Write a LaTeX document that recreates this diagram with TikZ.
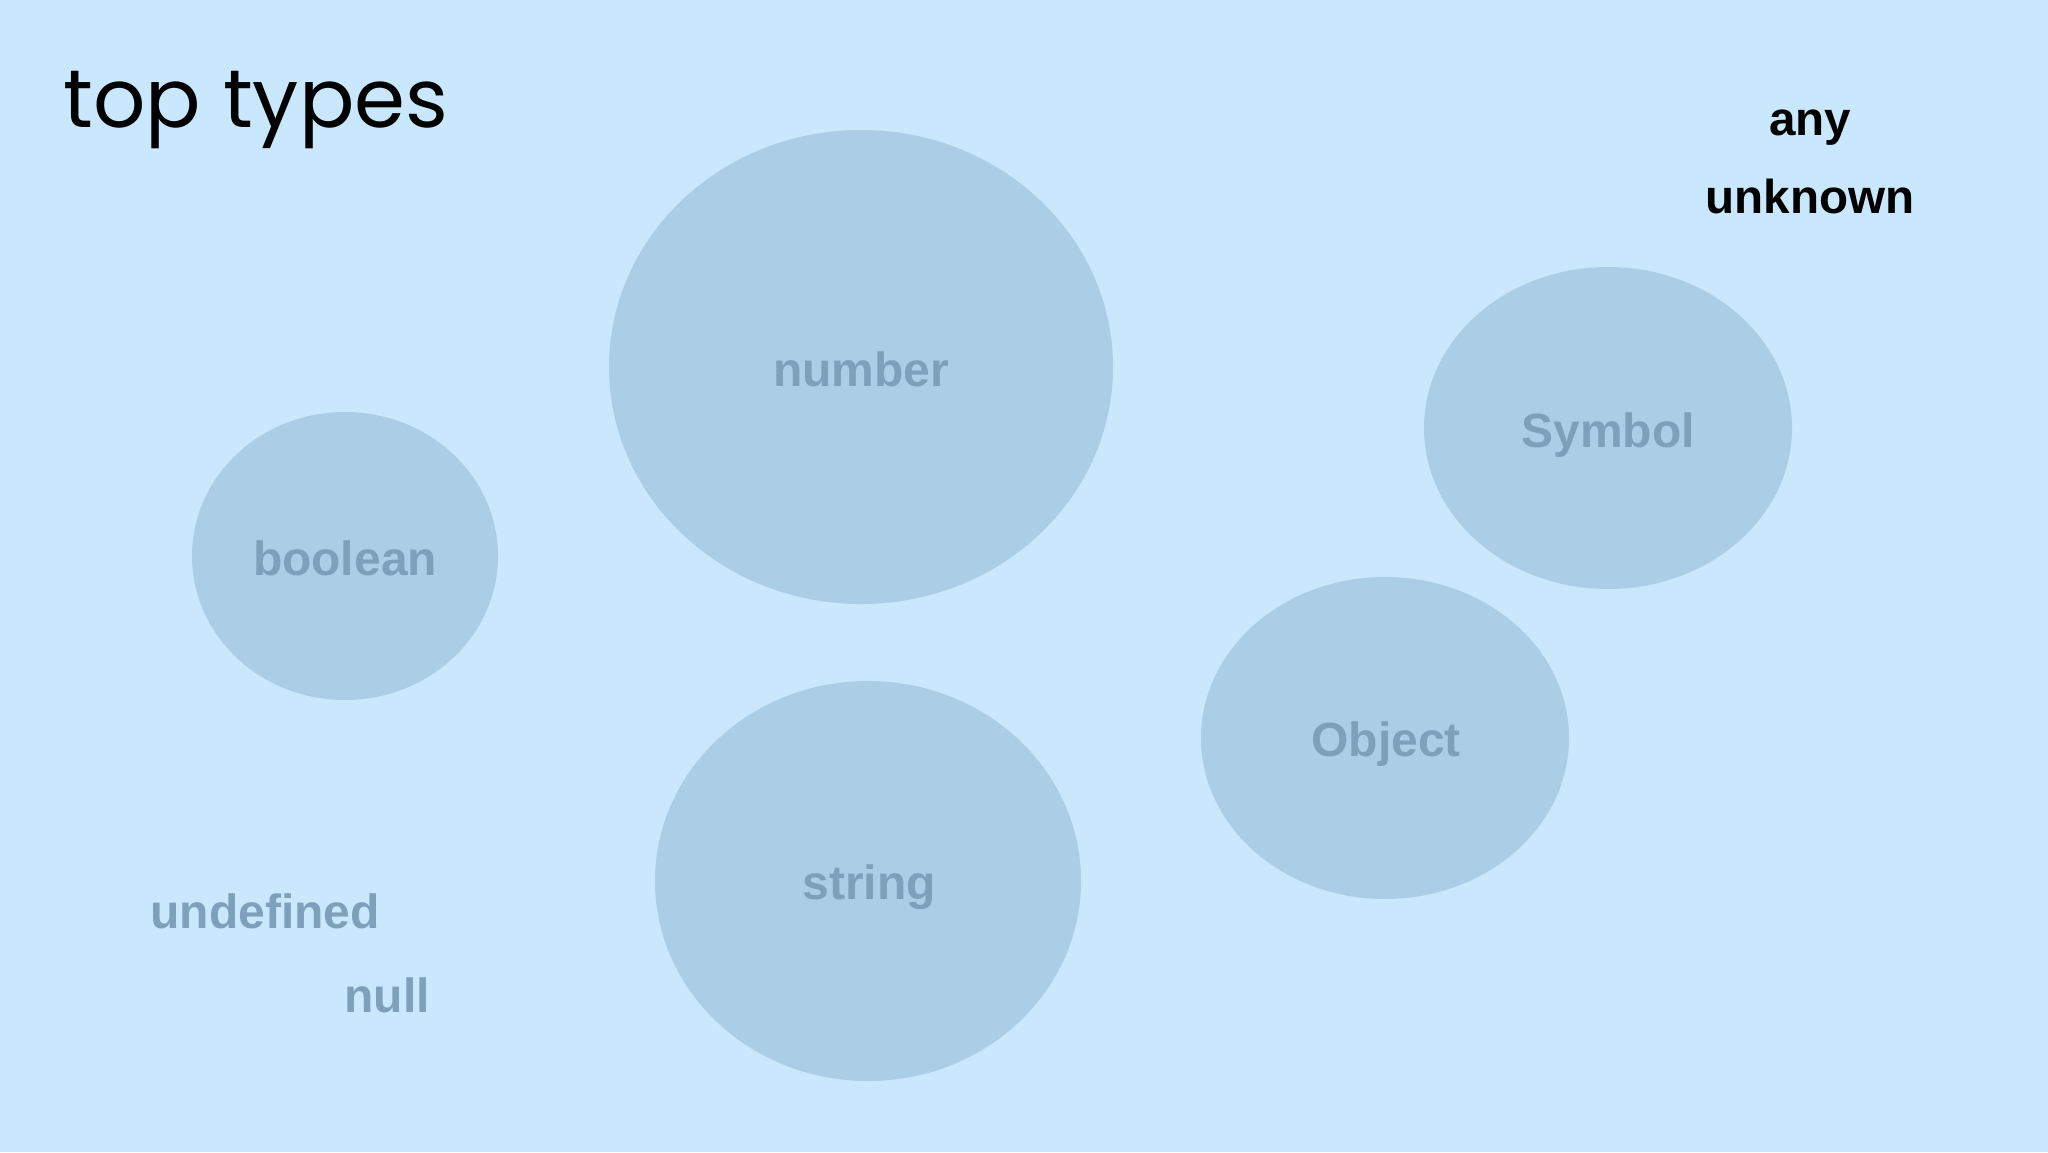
\documentclass[tikz,border=0pt]{standalone}
\usepackage{fontspec}
\setmainfont{Liberation Sans}
\newfontfamily\titlefont{Poppins}
\definecolor{bgblue}{HTML}{C9E7FD}
\definecolor{blobfill}{HTML}{ABCDE5}
\definecolor{labelgrey}{HTML}{7FA0BA}
\begin{document}
\begin{tikzpicture}[x=0.5pt,y=-0.5pt,
  blob/.style={fill=blobfill,draw=none},
  lbl/.style={anchor=base,inner sep=0pt,font=\fontsize{24}{28}\selectfont\bfseries,text=labelgrey},
  toplbl/.style={anchor=base,inner sep=0pt,font=\fontsize{23.8}{28}\selectfont\bfseries,text=black}]
\fill[bgblue] (0,0) rectangle (2048,1152);
\useasboundingbox (0,0) rectangle (2048,1152);
\fill[blob] (861,367) ellipse [x radius=252, y radius=237];
\fill[blob] (345,556) ellipse [x radius=153, y radius=144];
\fill[blob] (868,881) ellipse [x radius=213, y radius=200];
\fill[blob] (1608,428) ellipse [x radius=184, y radius=161];
\fill[blob] (1385,738) ellipse [x radius=184, y radius=161];
\node[anchor=base west,inner sep=0pt,font=\titlefont\fontsize{41}{48}\selectfont] (title) at (63,127) {top types};
\node[toplbl] (any) at (1810,135) {any};
\node[toplbl] (unknown) at (1810,213) {unknown};
\node[lbl] (number) at (861,386) {number};
\node[lbl] (boolean) at (345,575) {boolean};
\node[lbl] (symbol) at (1608,447) {Symbol};
\node[lbl] (object) at (1386,756) {Object};
\node[lbl] (string) at (869,899) {string};
\node[lbl] (undefined) at (265,928) {undefined};
\node[lbl] (null) at (387,1012) {null};
\end{tikzpicture}
\end{document}
